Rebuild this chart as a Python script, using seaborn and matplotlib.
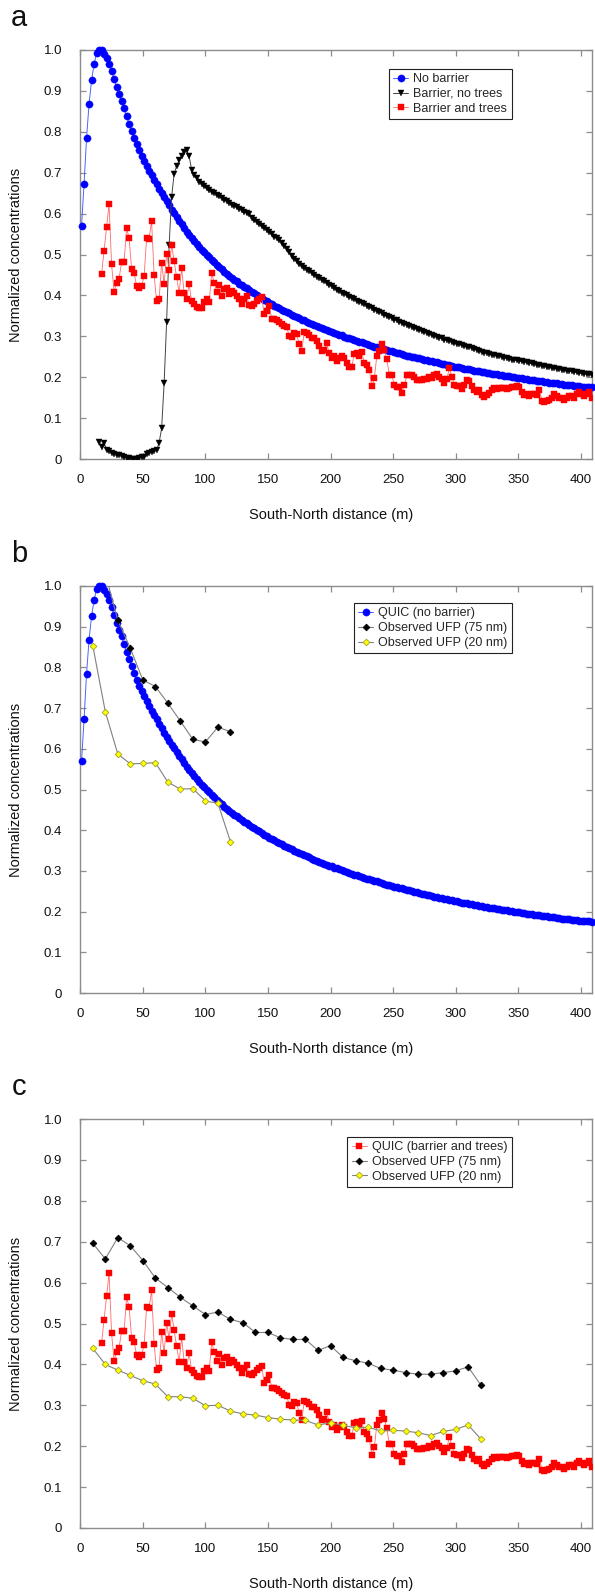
import matplotlib
matplotlib.use('Agg')
import matplotlib.pyplot as plt
import seaborn as sns

# --- data (normalized concentrations vs South-North distance, m) ---
# QUIC model, no barrier (2 m grid starting at 1 m)
no_barrier = [
    .570, .672, .785, .868, .926, .965, .992, 1.000, 1.000, .990,
    .980, .966, .948, .929, .910, .893, .876, .857, .838, .820,
    .803, .786, .770, .755, .741, .729, .717, .705, .694, .683,
    .672, .661, .650, .640, .630, .620, .610, .601, .592, .583,
    .574, .565, .556, .548, .540, .532, .525, .518, .511, .505,
    .499, .493, .487, .481, .475, .469, .464, .458, .453, .448,
    .443, .438, .434, .429, .425, .421, .417, .413, .409, .405,
    .401, .397, .393, .389, .386, .382, .378, .375, .372, .368,
    .365, .362, .359, .356, .353, .350, .347, .344, .341, .339,
    .336, .333, .330, .328, .325, .323, .320, .318, .315, .313,
    .311, .308, .306, .304, .302, .299, .297, .295, .293, .291,
    .289, .287, .285, .283, .281, .279, .277, .275, .274, .272,
    .270, .268, .266, .265, .263, .261, .260, .258, .257, .255,
    .253, .252, .250, .249, .247, .246, .244, .243, .241, .240,
    .239, .237, .236, .234, .233, .232, .230, .229, .228, .226,
    .225, .224, .222, .221, .220, .219, .218, .216, .215, .214,
    .213, .212, .211, .210, .209, .208, .207, .206, .205, .204,
    .203, .202, .201, .200, .199, .198, .197, .196, .195, .194,
    .193, .192, .191, .191, .190, .189, .188, .187, .186, .186,
    .185, .184, .183, .182, .182, .181, .180, .179, .179, .178,
    .177, .177, .176, .176, .175,
]
no_barrier_start = 1

# QUIC model, barrier without trees (starts at 15 m)
barrier_no_trees = [
    .042, .030, .040, .022, .019, .015, .013, .011, .009, .007,
    .005, .003, .002, .001, .000, .001, .002, .004, .005, .012,
    .015, .017, .020, .022, .040, .075, .185, .336, .523, .641,
    .697, .717, .730, .740, .751, .755, .740, .707, .695, .686,
    .678, .672, .667, .662, .658, .654, .650, .646, .642, .638,
    .633, .630, .626, .622, .619, .615, .612, .608, .605, .602,
    .600, .590, .584, .579, .574, .569, .564, .559, .554, .549,
    .544, .540, .535, .529, .521, .513, .505, .497, .490, .483,
    .477, .472, .468, .463, .459, .455, .450, .446, .442, .438,
    .434, .430, .426, .422, .418, .414, .410, .406, .403, .400,
    .397, .393, .390, .387, .384, .381, .378, .375, .372, .368,
    .365, .362, .359, .356, .353, .350, .347, .344, .341, .339,
    .336, .333, .331, .328, .326, .323, .321, .319, .316, .314,
    .311, .309, .306, .303, .301, .299, .297, .295, .292, .290,
    .288, .286, .284, .282, .280, .278, .276, .275, .273, .271,
    .269, .267, .264, .262, .260, .259, .257, .255, .254, .252,
    .251, .249, .248, .246, .245, .243, .242, .241, .240, .239,
    .238, .236, .235, .234, .232, .231, .230, .228, .227, .226,
    .225, .223, .222, .221, .220, .218, .217, .216, .215, .214,
    .213, .212, .211, .210, .209, .208, .207, .206,
]
barrier_no_trees_start = 15

# QUIC model, barrier and trees (starts at 17 m)
barrier_trees = [
    .452, .509, .568, .624, .476, .409, .430, .441, .481, .481,
    .564, .541, .465, .455, .423, .419, .423, .447, .540, .539,
    .581, .450, .386, .390, .480, .428, .502, .461, .524, .484,
    .444, .406, .466, .406, .392, .427, .386, .378, .372, .368,
    .370, .385, .392, .383, .455, .430, .409, .426, .398, .415,
    .418, .404, .410, .405, .398, .392, .380, .390, .398, .376,
    .375, .380, .387, .392, .395, .355, .362, .374, .343, .342,
    .340, .334, .330, .324, .322, .301, .298, .307, .305, .281,
    .264, .310, .307, .303, .295, .295, .289, .276, .264, .267,
    .283, .258, .246, .251, .240, .247, .251, .246, .234, .226,
    .225, .257, .260, .252, .262, .234, .231, .218, .178, .197,
    .252, .265, .280, .266, .244, .205, .205, .181, .177, .176,
    .162, .181, .205, .206, .205, .201, .194, .193, .194, .196,
    .195, .201, .199, .205, .209, .201, .195, .187, .196, .222,
    .201, .181, .179, .178, .172, .181, .193, .190, .178, .169,
    .165, .169, .156, .152, .156, .161, .169, .173, .170, .174,
    .174, .173, .170, .173, .176, .177, .178, .176, .165, .156,
    .160, .155, .158, .160, .156, .168, .143, .140, .142, .145,
    .150, .160, .155, .150, .148, .145, .150, .153, .155, .150,
    .160, .165, .158, .155, .160, .163, .150,
]
barrier_trees_start = 17

# observations, panel b (normalized to the no-barrier case)
obs_b_75_x = [20, 30, 40, 50, 60, 70, 80, 90, 100, 110, 120]
obs_b_75 = [1.03, .916, .847, .769, .753, .712, .668, .623, .617, .653, .642]
obs_b_20_x = [10, 20, 30, 40, 50, 60, 70, 80, 90, 100, 110, 120]
obs_b_20 = [.853, .691, .587, .563, .564, .566, .518, .501, .502, .472, .466, .372]

# observations, panel c (normalized to the barrier-and-trees case)
obs_c_x = [10, 20, 30, 40, 50, 60, 70, 80, 90, 100, 110, 120, 130, 140, 150, 160,
           170, 180, 190, 200, 210, 220, 230, 240, 250, 260, 270, 280, 290, 300, 310, 320]
obs_c_75 = [.696, .658, .710, .690, .654, .611, .588, .564, .543, .522, .528, .510,
            .502, .478, .478, .465, .461, .461, .434, .446, .417, .409, .403, .390,
            .386, .380, .376, .376, .380, .384, .394, .350]
obs_c_20 = [.439, .400, .386, .373, .360, .352, .321, .321, .317, .299, .300, .286,
            .279, .276, .270, .266, .264, .263, .252, .257, .251, .245, .246, .238,
            .239, .237, .233, .226, .236, .241, .252, .218]

y_ticks = [0, .1, .2, .3, .4, .5, .6, .7, .8, .9, 1.0]
y_tick_labels = ['0', '0.1', '0.2', '0.3', '0.4', '0.5', '0.6', '0.7', '0.8', '0.9', '1.0']
x_ticks = [0, 50, 100, 150, 200, 250, 300, 350, 400]


def grid(start, values):
    # model output is on a regular 2 m grid
    return list(range(start, start + 2 * len(values), 2))


sns.set_style("ticks")
plt.rcParams['font.family'] = ['Liberation Sans', 'DejaVu Sans']

W, H = 595, 1592
fig = plt.figure(figsize=(W / 100, H / 100), dpi=100)


def make_axes(top_px, bottom_px):
    left, right = 80.3, 592
    return fig.add_axes([left / W, 1 - bottom_px / H, (right - left) / W, (bottom_px - top_px) / H])


def style_axes(ax):
    ax.set_xlim(0, 409)
    ax.set_ylim(0, 1.0)
    ax.set_xticks(x_ticks)
    ax.set_yticks(y_ticks)
    ax.set_yticklabels(y_tick_labels)
    for sp in ax.spines.values():
        sp.set_visible(True)
        sp.set_color('#8c8c8c')
        sp.set_linewidth(1.0)
    ax.tick_params(axis='both', direction='in', length=4, width=0.9, color='#8c8c8c',
                   labelsize=9.5, labelcolor='#111111', top=True, right=True)
    ax.tick_params(axis='x', pad=11)
    ax.tick_params(axis='y', pad=13)
    ax.set_xlabel('South-North distance (m)', fontsize=10.5, color='#111111')
    ax.set_ylabel('Normalized concentrations', fontsize=10.5, color='#111111')
    ax.xaxis.set_label_coords(0.49, -0.12)
    ax.yaxis.set_label_coords(-0.112, 0.5)


def add_legend(ax, anchor):
    leg = ax.legend(loc='upper right', bbox_to_anchor=anchor, fontsize=9, frameon=True,
                    fancybox=False, framealpha=1, edgecolor='#222222', borderpad=0.35,
                    labelspacing=0.22, handlelength=1.2, handletextpad=0.4, borderaxespad=0)
    leg.get_frame().set_linewidth(0.8)


def blue_line(ax, label):
    sns.lineplot(x=grid(no_barrier_start, no_barrier), y=no_barrier, ax=ax, estimator=None,
                 sort=False, color='#4a64ff', linewidth=0.7, marker='o', markersize=5.2,
                 markerfacecolor='#0000ff', markeredgecolor='#0000ff', markeredgewidth=0.3,
                 label=label, clip_on=False, zorder=3)


def red_line(ax, label):
    sns.lineplot(x=grid(barrier_trees_start, barrier_trees), y=barrier_trees, ax=ax,
                 estimator=None, sort=False, color='#ff6a6a', linewidth=0.6, marker='s',
                 markersize=3.8, markerfacecolor='#ff0000', markeredgecolor='#ff0000',
                 markeredgewidth=0.3, label=label, zorder=3)


def obs_line(ax, xs, ys, face, edge, label, clip=True):
    sns.lineplot(x=xs, y=ys, ax=ax, estimator=None, sort=False, color='#808080',
                 linewidth=0.8, marker='D', markersize=3.4, markerfacecolor=face,
                 markeredgecolor=edge, markeredgewidth=0.6, label=label, clip_on=clip, zorder=4)


# ---- panel a ----
ax_a = make_axes(50, 459)
blue_line(ax_a, 'No barrier')
sns.lineplot(x=grid(barrier_no_trees_start, barrier_no_trees), y=barrier_no_trees, ax=ax_a,
             estimator=None, sort=False, color='#444444', linewidth=0.7, marker='v',
             markersize=5.0, markerfacecolor='black', markeredgecolor='black',
             markeredgewidth=0.3, label='Barrier, no trees', zorder=3)
red_line(ax_a, 'Barrier and trees')
style_axes(ax_a)
add_legend(ax_a, (0.843, 0.954))

# ---- panel b ----
ax_b = make_axes(586, 993)
blue_line(ax_b, 'QUIC (no barrier)')
obs_line(ax_b, obs_b_75_x, obs_b_75, 'black', 'black', 'Observed UFP (75 nm)')
obs_line(ax_b, obs_b_20_x, obs_b_20, '#ffff00', '#a0a030', 'Observed UFP (20 nm)')
style_axes(ax_b)
add_legend(ax_b, (0.843, 0.958))

# ---- panel c ----
ax_c = make_axes(1119, 1528)
red_line(ax_c, 'QUIC (barrier and trees)')
obs_line(ax_c, obs_c_x, obs_c_75, 'black', 'black', 'Observed UFP (75 nm)')
obs_line(ax_c, obs_c_x, obs_c_20, '#ffff00', '#a0a030', 'Observed UFP (20 nm)')
style_axes(ax_c)
add_legend(ax_c, (0.843, 0.956))

# panel letters
for letter, y_px in [('a', 18), ('b', 554), ('c', 1087)]:
    fig.text(19 / W, 1 - y_px / H, letter, ha='center', va='center', fontsize=21, color='#111111')

fig.savefig('out.png', dpi=100)
plt.close(fig)
